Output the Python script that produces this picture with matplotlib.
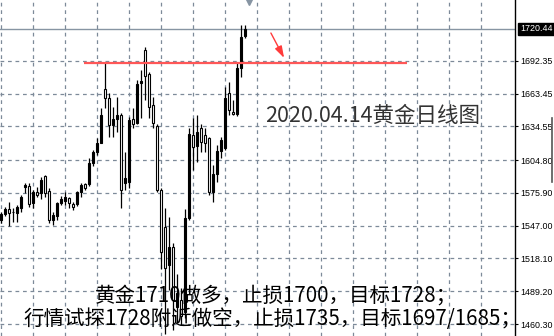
import matplotlib
matplotlib.use('Agg')
import matplotlib.pyplot as plt
import matplotlib.transforms as mtransforms
from matplotlib.lines import Line2D

# daily XAUUSD candles
opens = [1552.0, 1557.3, 1561.4, 1559.5, 1558.4, 1562.3, 1581.4, 1582.0, 1566.7, 1576.4,
         1575.6, 1590.8, 1577.6, 1552.0, 1555.5, 1566.7, 1569.0, 1571.2, 1566.1, 1566.1,
         1576.4, 1583.8, 1583.8, 1602.0, 1612.2, 1620.2, 1667.3, 1659.3, 1635.8, 1640.8,
         1644.6, 1584.4, 1585.5, 1640.8, 1637.8, 1672.6, 1701.9, 1680.8, 1653.4, 1634.9,
         1578.5, 1545.8, 1512.3, 1528.2, 1475.3, 1481.5, 1470.9, 1553.8, 1627.0, 1617.7,
         1632.9, 1627.0, 1624.1, 1577.0, 1592.3, 1612.9, 1615.2, 1663.7, 1647.5, 1645.5,
         1685.8, 1714.5]
highs = [1559.1, 1563.5, 1568.2, 1562.6, 1565.2, 1574.1, 1584.9, 1584.4, 1578.5, 1581.4,
         1589.7, 1591.7, 1580.0, 1559.3, 1568.2, 1573.2, 1577.0, 1572.6, 1568.2, 1577.9,
         1584.9, 1584.9, 1606.4, 1613.7, 1624.3, 1650.5, 1690.5, 1664.3, 1651.9, 1660.5,
         1646.4, 1612.0, 1642.8, 1650.5, 1675.5, 1684.3, 1704.3, 1682.8, 1660.7, 1636.7,
         1580.2, 1562.6, 1554.7, 1531.7, 1504.4, 1492.1, 1561.7, 1633.1, 1641.7, 1644.6,
         1636.4, 1632.9, 1625.5, 1600.5, 1618.1, 1625.5, 1669.6, 1674.0, 1657.8, 1691.3,
         1724.0, 1724.0]
lows = [1549.4, 1555.5, 1546.7, 1550.5, 1550.5, 1559.3, 1575.6, 1563.7, 1562.3, 1572.6,
        1570.3, 1572.6, 1549.1, 1547.6, 1552.0, 1565.2, 1565.2, 1562.3, 1560.8, 1564.4,
        1572.6, 1578.5, 1582.0, 1599.9, 1609.3, 1619.6, 1650.8, 1625.5, 1625.5, 1629.9,
        1562.9, 1578.5, 1580.2, 1633.1, 1636.7, 1642.0, 1657.8, 1642.0, 1633.1, 1576.7,
        1508.8, 1451.5, 1490.3, 1455.0, 1461.2, 1459.4, 1465.6, 1552.0, 1596.1, 1603.2,
        1612.2, 1612.2, 1574.1, 1568.2, 1585.8, 1606.4, 1613.7, 1644.6, 1644.6, 1643.7,
        1678.1, 1712.2]
closes = [1557.3, 1561.7, 1558.4, 1559.1, 1563.7, 1572.0, 1582.6, 1566.1, 1577.0, 1574.1,
          1587.3, 1575.6, 1552.0, 1556.4, 1566.7, 1570.3, 1572.0, 1567.3, 1563.7, 1576.4,
          1582.9, 1580.0, 1602.3, 1612.0, 1619.6, 1644.6, 1659.3, 1635.8, 1640.8, 1644.6,
          1578.5, 1589.3, 1640.2, 1636.4, 1671.9, 1674.9, 1678.6, 1651.7, 1637.3, 1578.9,
          1523.8, 1509.4, 1528.2, 1481.5, 1487.6, 1467.4, 1553.8, 1627.9, 1616.7, 1629.6,
          1620.5, 1619.6, 1577.0, 1592.3, 1612.9, 1622.6, 1659.3, 1649.0, 1645.7, 1685.8,
          1713.6, 1720.44]

price_ticks = [1692.35, 1663.45, 1634.55, 1604.80, 1575.90, 1547.00, 1518.10, 1489.20, 1460.30]
bid = 1720.44
resist_level = 1690.7
resist_from, resist_to = 20.7, 101.4
arrow_from = (67.4, 1716.9)
arrow_to = (70.7, 1694.9)

title = '2020.04.14黄金日线图'
note1 = '黄金1710做多，止损1700，目标1728；'
note2 = '行情试探1728附近做空，止损1735，目标1697/1685；'

plt.rcParams['font.family'] = ['Liberation Sans', 'DejaVu Sans']
cjk = ['Noto Sans CJK SC', 'DejaVu Sans']

W, H = 554, 336
fig = plt.figure(figsize=(W / 100, H / 100), dpi=100)
ax = fig.add_axes([0, 0, 515 / W, 1])
ax.set_xlim(-0.325, -0.325 + 515 / 4)
ax.set_ylim(1449.73, 1746.01)

# grid every 8 bars, horizontal at price labels
ax.set_xticks(range(0, 128, 8))
ax.set_yticks(price_ticks)
ax.set_yticklabels([f'{p:.2f}' for p in price_ticks])
ax.grid(True, color='#7d8a99', lw=0.9, ls=(0, (3, 3)))
ax.set_axisbelow(True)
ax.tick_params(axis='x', bottom=False, labelbottom=False)
ax.yaxis.tick_right()
ax.tick_params(axis='y', direction='out', length=2.5, width=0.8, pad=1.5,
               labelsize=6.4, colors='black')
for s in ['top', 'left', 'bottom']:
    ax.spines[s].set_visible(False)
ax.spines['right'].set_linewidth(1.0)

# current price line and label
ax.axhline(bid, color='#8795a3', lw=1.0, zorder=1)
trans = mtransforms.blended_transform_factory(ax.transAxes, ax.transData)
ax.text(1.01, bid, f'{bid:.2f}', transform=trans, ha='left', va='center',
        fontsize=6.4, color='white', zorder=6, clip_on=False,
        bbox=dict(boxstyle='square,pad=0.22', fc='black', ec='black'))

# candles: black = up, white = down
for i, (o, h, l, c) in enumerate(zip(opens, highs, lows, closes)):
    ax.vlines(i, l, h, color='black', lw=0.9, zorder=2)
    body = max(abs(c - o), 0.4)
    ax.bar(i, body, bottom=min(o, c), width=0.55,
           color='black' if c > o else 'white', edgecolor='black', lw=0.8, zorder=3)

# resistance line and arrow
ax.hlines(resist_level, resist_from, resist_to, color='#ff5757', lw=1.6, zorder=4)
ax.annotate('', xy=arrow_to, xytext=arrow_from,
            arrowprops=dict(arrowstyle='-|>,head_length=0.7,head_width=0.22',
                            color='#ff3b3b', lw=1.0, shrinkA=0, shrinkB=0), zorder=5)

# chart shift marker
ax.plot([249 / 515], [0.993], marker='v', ms=4, color='#8795a3',
        transform=ax.transAxes, clip_on=False)

# text
fig.text(265 / W, 1 - 116 / H, title, fontsize=15.5, family=cjk, color='#333333',
         ha='left', va='center')
fig.text(95 / W, 1 - 296 / H, note1, fontsize=14.8, family=cjk, color='black',
         ha='left', va='center')
fig.text(23 / W, 1 - 319 / H, note2, fontsize=14.8, family=cjk, color='black',
         ha='left', va='center')

fig.add_artist(Line2D([551.5 / W, 551.5 / W], [1 - 118 / H, 1 - 182 / H],
                      color='#555555', lw=1.2))

fig.savefig('out.png', dpi=100)
